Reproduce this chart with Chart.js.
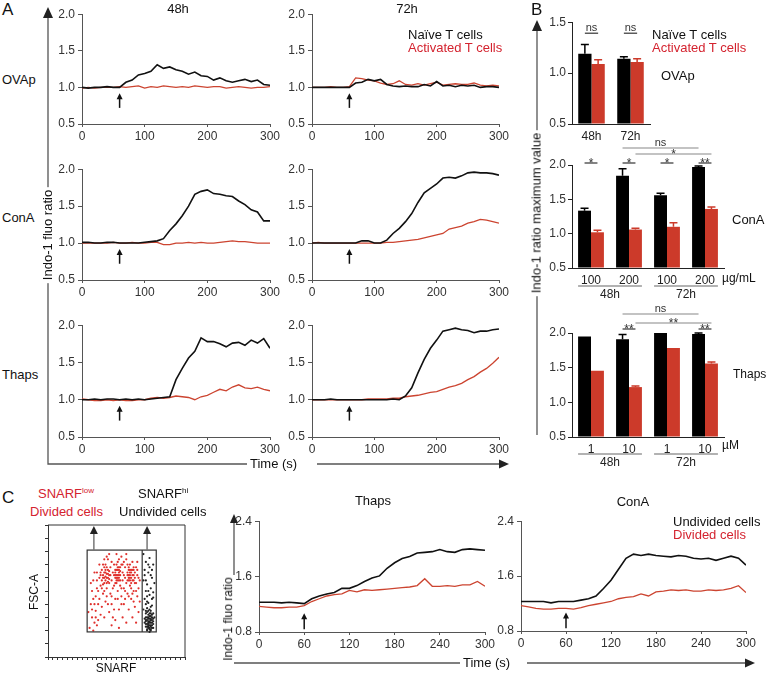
<!DOCTYPE html>
<html>
<head>
<meta charset="utf-8">
<script src="https://cdn.jsdelivr.net/npm/chart.js@4.4.1/dist/chart.umd.min.js"></script>
<style>
  body { margin: 0; width: 767px; height: 675px; position: relative; overflow: hidden; background: #fff;
         font-family: "Liberation Sans", Arial, sans-serif; }
  canvas { position: absolute; }
  svg { position: absolute; left: 0; top: 0; }
  .t { position: absolute; white-space: nowrap; font-size: 13px; line-height: 1.15; color: #111; }
</style>
</head>
<body>
<svg width="767" height="675">
  <g stroke="#555" stroke-width="1.3" fill="none">
    <path d="M48 16 V464 H247 M317 464 H500"/>
    <path d="M537 30 V435"/>
    <path d="M234 522 V575 M234 663 H460 M527 663 H746"/>
  </g>
  <g fill="#222">
    <path d="M48 7 L43 18 L53 18 Z"/>
    <path d="M537 20 L532 31 L542 31 Z"/>
    <path d="M234 514 L230 523 L238 523 Z"/>
    <path d="M509 464 L499 459.5 L499 468.5 Z"/>
    <path d="M755 663 L745 658.5 L745 667.5 Z"/>
  </g>
</svg>
<script>
// ---- data ----
const times = [0,10,20,30,40,50,60,70,80,90,100,110,120,130,140,150,160,170,180,190,200,210,220,230,240,250,260,270,280,290,300];

// panel A: Indo-1 ratio, naive (black) vs activated (red) T cells
const ovap48Naive = [1.00,0.99,1.00,1.00,1.01,1.00,1.00,1.07,1.10,1.17,1.19,1.22,1.31,1.26,1.28,1.24,1.22,1.18,1.21,1.16,1.15,1.10,1.13,1.09,1.07,1.09,1.11,1.08,1.10,1.04,1.03];
const ovap48Act   = [0.99,1.00,0.99,1.00,1.00,1.00,1.01,1.00,1.01,1.02,0.99,1.01,1.00,1.02,1.01,1.00,1.01,1.00,1.02,1.01,1.00,1.01,1.01,0.99,1.00,1.01,1.00,0.99,1.00,1.00,1.01];
const ovap72Naive = [1.00,1.00,1.00,1.00,1.00,1.00,1.00,1.06,1.07,1.11,1.09,1.11,1.04,1.02,1.01,1.02,1.01,1.01,1.04,1.02,1.08,1.02,1.03,1.01,1.03,1.02,1.03,1.00,1.01,1.01,1.00];
const ovap72Act   = [1.00,1.00,1.00,1.01,1.00,1.00,1.01,1.13,1.12,1.10,1.09,1.06,1.04,1.05,1.09,1.04,1.03,1.05,1.03,1.05,1.07,1.03,1.04,1.05,1.04,1.04,1.06,1.03,1.02,1.03,1.02];
const cona48Naive = [1.01,1.01,1.00,1.00,1.01,1.01,1.00,1.00,1.00,1.00,1.01,1.02,1.03,1.06,1.17,1.26,1.37,1.50,1.66,1.70,1.72,1.67,1.66,1.64,1.63,1.57,1.52,1.45,1.42,1.30,1.30];
const cona48Act   = [1.00,1.00,1.00,1.00,1.00,1.01,1.00,1.00,1.01,1.00,1.00,1.01,1.01,0.98,0.98,1.00,1.00,1.01,1.00,1.01,1.00,1.00,1.01,1.02,1.03,1.02,1.02,1.01,1.00,1.00,1.00];
const cona72Naive = [1.00,1.00,1.00,1.00,1.00,1.00,1.00,1.00,1.03,1.03,1.00,1.00,1.04,1.13,1.20,1.29,1.40,1.55,1.68,1.74,1.80,1.88,1.89,1.88,1.91,1.95,1.96,1.95,1.95,1.94,1.92];
const cona72Act   = [1.00,1.01,1.00,1.00,1.00,1.00,1.00,1.00,1.00,1.00,1.00,1.00,1.01,1.01,1.02,1.03,1.04,1.05,1.07,1.09,1.11,1.13,1.19,1.21,1.23,1.27,1.29,1.32,1.31,1.29,1.27];
const thaps48Naive = [1.00,1.00,1.01,1.00,1.01,1.01,1.00,1.01,1.00,1.01,1.00,1.01,1.02,1.03,1.04,1.27,1.42,1.56,1.65,1.83,1.78,1.78,1.75,1.71,1.76,1.77,1.73,1.80,1.76,1.82,1.69];
const thaps48Act   = [1.01,1.00,0.99,0.99,1.00,0.99,1.00,0.99,0.99,1.00,1.00,1.02,1.03,1.02,1.03,1.05,1.04,1.03,1.00,1.04,1.06,1.10,1.14,1.12,1.17,1.20,1.16,1.15,1.17,1.14,1.12];
const thaps72Naive = [1.00,1.00,1.00,1.01,1.00,1.00,1.00,1.00,1.00,1.00,1.00,1.00,1.00,1.01,1.00,1.05,1.16,1.36,1.54,1.69,1.80,1.92,1.94,1.96,1.94,1.93,1.90,1.92,1.92,1.94,1.95];
const thaps72Act   = [1.00,1.00,1.00,1.00,1.00,1.00,1.00,1.00,1.00,1.01,1.01,1.01,1.01,1.02,1.02,1.04,1.05,1.06,1.08,1.10,1.11,1.14,1.17,1.19,1.22,1.27,1.31,1.37,1.42,1.49,1.57];

// panel B: maximum ratio (mean, error)
const ovapLabels = ['48h', '72h'];
const ovapNaive = [1.19, 1.14];
const ovapNaiveErr = [0.09, 0.02];
const ovapAct = [1.09, 1.11];
const ovapActErr = [0.04, 0.03];

const conaLabels = ['100', '200', '100', '200'];
const conaNaive = [1.335, 1.845, 1.56, 1.97];
const conaNaiveErr = [0.035, 0.10, 0.03, 0.015];
const conaAct = [1.02, 1.06, 1.10, 1.36];
const conaActErr = [0.03, 0.02, 0.06, 0.03];

const thapsLabels = ['1', '10', '1', '10'];
const thapsNaive = [1.95, 1.91, 2.0, 1.985];
const thapsNaiveErr = [0, 0.07, 0, 0.015];
const thapsAct = [1.455, 1.22, 1.785, 1.56];
const thapsActErr = [0, 0.015, 0, 0.02];

// panel C: undivided (black) vs divided (red) cells
const thapsUndiv = [1.23,1.23,1.23,1.22,1.23,1.22,1.21,1.28,1.32,1.35,1.37,1.43,1.43,1.47,1.53,1.58,1.61,1.72,1.80,1.86,1.89,1.94,1.95,1.96,1.99,1.96,1.95,1.99,2.00,1.99,1.98];
const thapsDiv   = [1.17,1.16,1.15,1.15,1.16,1.16,1.18,1.24,1.28,1.32,1.34,1.35,1.40,1.38,1.41,1.40,1.41,1.42,1.43,1.44,1.45,1.47,1.57,1.46,1.46,1.47,1.46,1.48,1.48,1.53,1.46];
const conaUndiv  = [1.23,1.23,1.23,1.23,1.21,1.23,1.23,1.23,1.25,1.27,1.31,1.42,1.54,1.70,1.86,1.92,1.90,1.92,1.90,1.89,1.88,1.90,1.89,1.86,1.85,1.86,1.83,1.86,1.89,1.86,1.76];
const conaDiv    = [1.17,1.15,1.13,1.12,1.12,1.13,1.13,1.12,1.14,1.17,1.19,1.21,1.23,1.27,1.29,1.30,1.34,1.31,1.37,1.38,1.40,1.39,1.40,1.38,1.38,1.40,1.39,1.40,1.42,1.46,1.36];

// SNARF (x) vs FSC-A (y) events
const dividedPts = [[34,22],[36,30],[38,26],[35,40],[39,35],[41,28],[42,44],[40,52],[37,58],[43,62],[44,38],[45,48],[46,56],[46,64],[47,70],[48,60],[48,52],[49,66],[47,58],[45,60],[49,74],[50,56],[50,62],[51,48],[51,68],[52,58],[52,40],[53,64],[53,30],[54,54],[54,70],[55,60],[55,44],[56,66],[56,56],[57,62],[57,72],[57,50],[58,58],[58,66],[58,36],[59,62],[59,54],[60,70],[60,46],[61,58],[61,64],[62,52],[62,40],[63,68],[63,60],[64,56],[64,74],[65,62],[65,48],[66,66],[66,58],[67,70],[67,62],[67,54],[68,64],[68,44],[69,58],[69,72],[70,66],[70,50],[71,60],[71,38],[72,56],[72,68],[73,46],[73,62],[74,52],[74,34],[75,58],[75,42],[44,66],[46,74],[48,46],[50,34],[52,24],[55,28],[58,22],[61,30],[64,26],[66,36],[69,30],[72,26],[40,64],[42,70],[39,46],[36,50],[33,34],[37,20],[60,76],[56,78],[64,78],[50,78],[47,64],[48,68],[49,60],[56,60],[57,58],[58,62],[66,62],[67,66],[68,60],[46,50],[53,52],[62,62],[59,68],[63,50],[45,70],[54,62],[65,70],[70,62],[68,52],[51,62],[55,66],[61,70],[43,54],[47,42],[60,40],[70,42],[73,72],[41,40],[38,64],[35,56],
  [44,58],[45,62],[46,60],[47,66],[48,63],[49,57],[50,65],[44,52],[46,68],[48,56],[50,59],[43,64],[45,55],[47,61],[49,63],[55,64],[56,62],[57,60],[58,64],[59,58],[56,70],[57,66],[55,56],[58,68],[59,65],[56,58],[57,68],[55,62],[58,60],[65,64],[66,60],[67,64],[68,66],[69,62],[70,58],[71,64],[66,68],[67,58],[68,56],[69,66],[65,58],[70,68],[71,56],[67,60],[40,58],[41,50],[42,60],[38,40],[37,44],[36,36],[39,30],[40,24],[43,32],[46,30],[49,40],[52,46],[54,36],[57,44],[60,52],[63,44],[66,46],[69,48],[72,50],[74,60],[73,66],[62,72],[52,72],[48,76],[58,74]];
const undividedPts = [[78,78],[80,72],[83,75],[86,70],[79,66],[82,64],[85,60],[78,58],[81,55],[84,52],[87,56],[80,50],[83,47],[86,45],[79,44],[82,41],[85,39],[81,37],[84,35],[78,36],[80,33],[82,32],[84,31],[86,33],[81,30],[83,29],[85,28],[80,28],[82,27],[84,26],[86,27],[81,25],[83,24],[85,24],[80,23],[82,22],[84,21],[86,22],[81,20],[83,19],[79,26],[87,30],[82,35],[84,38],[80,40],[86,49],[83,68],[79,62],[85,66],[81,46],[83,33],[81,34],[85,30],[82,25],[84,28],[83,26],[80,30],[86,25],[82,29],[84,23],
  [81,21],[82,23],[83,22],[84,24],[85,22],[80,25],[82,26],[83,27],[85,26],[81,28],[84,29],[82,30],[83,31],[80,27],[86,29],[81,23],[84,20],[83,21],[82,24],[85,32],[79,29],[80,35],[84,33],[83,36],[81,42],[85,44],[82,50],[80,58],[84,62],[82,70]];

// ---- drawing ----
const FONT = "'Liberation Sans', Arial, sans-serif";
const LINE_RED = '#cc4430';
const BAR_RED = '#cc3a2a';
const TEXT_RED = '#d4232f';
const AXIS = '#555';
Chart.defaults.font.family = FONT;
Chart.defaults.color = '#333';

function makeCanvas(area, pad) {
  const c = document.createElement('canvas');
  const w = area.r - area.l + pad.l + pad.r;
  const h = area.b - area.t + pad.t + pad.b;
  c.width = w; c.height = h;
  c.style.left = (area.l - pad.l) + 'px';
  c.style.top = (area.t - pad.t) + 'px';
  c.style.width = w + 'px'; c.style.height = h + 'px';
  document.body.appendChild(c);
  return c;
}

function txt(s, x, y, o = {}) {
  const d = document.createElement('div');
  d.className = 't';
  d.innerHTML = s;
  d.style.left = x + 'px';
  d.style.top = y + 'px';
  if (o.size) d.style.fontSize = o.size + 'px';
  if (o.color) d.style.color = o.color;
  if (o.bg) { d.style.background = '#fff'; d.style.padding = '0 3px'; }
  let tr = o.center ? 'translate(-50%,-50%)' : 'translateY(-50%)';
  if (o.rot) tr += ' rotate(-90deg)';
  d.style.transform = tr;
  document.body.appendChild(d);
}

// small upward arrow marking stimulus addition
function stimArrow(a) {
  return {
    id: 'stimArrow',
    afterDatasetsDraw(chart) {
      const {ctx, scales: {x, y}} = chart;
      const px = x.getPixelForValue(a.x);
      const tip = y.getPixelForValue(a.tip), tail = y.getPixelForValue(a.tail);
      ctx.save();
      ctx.strokeStyle = '#111'; ctx.fillStyle = '#111'; ctx.lineWidth = 1.5;
      ctx.beginPath(); ctx.moveTo(px, tail); ctx.lineTo(px, tip + 4); ctx.stroke();
      ctx.beginPath(); ctx.moveTo(px, tip); ctx.lineTo(px - 3, tip + 6); ctx.lineTo(px + 3, tip + 6); ctx.closePath(); ctx.fill();
      ctx.restore();
    }
  };
}

function lineChart(area, naive, act, yMin, yMax, yStep, xStep, arrow) {
  const pad = {l: 40, t: 8, r: 16, b: 24};
  const canvas = makeCanvas(area, pad);
  new Chart(canvas, {
    type: 'line',
    data: {
      datasets: [
        {data: times.map((t, i) => ({x: t, y: naive[i]})), borderColor: '#111', borderWidth: 1.6},
        {data: times.map((t, i) => ({x: t, y: act[i]})), borderColor: LINE_RED, borderWidth: 1.3}
      ]
    },
    options: {
      responsive: false, animation: false, devicePixelRatio: 1,
      layout: {padding: {top: pad.t, right: pad.r, left: 0, bottom: 0}},
      elements: {point: {radius: 0}, line: {tension: 0}},
      plugins: {legend: {display: false}, tooltip: {enabled: false}},
      scales: {
        x: {type: 'linear', min: 0, max: 300,
            ticks: {stepSize: xStep, font: {size: 12}, color: '#333', padding: 2},
            grid: {drawOnChartArea: false, tickLength: 3, color: AXIS},
            border: {color: AXIS},
            afterFit: s => { s.height = pad.b; }},
        y: {min: yMin, max: yMax,
            ticks: {stepSize: yStep, font: {size: 12}, color: '#333', padding: 3, callback: v => v.toFixed(1)},
            grid: {drawOnChartArea: false, tickLength: 4, color: AXIS},
            border: {color: AXIS},
            afterFit: s => { s.width = pad.l; }}
      }
    },
    plugins: [stimArrow(arrow)]
  });
}

// error bars, significance brackets and group underlines
function barExtras(o) {
  return {
    id: 'barExtras',
    afterDatasetsDraw(chart) {
      const {ctx, chartArea, scales: {y}} = chart;
      const bar = (c, d) => chart.getDatasetMeta(d).data[c];
      ctx.save();
      [[o.naive, o.naiveErr, '#000'], [o.act, o.actErr, BAR_RED]].forEach(([vals, errs, col], d) => {
        vals.forEach((v, i) => {
          if (!errs[i]) return;
          const b = bar(i, d), top = y.getPixelForValue(v + errs[i]);
          ctx.strokeStyle = col; ctx.lineWidth = 1.5;
          ctx.beginPath();
          ctx.moveTo(b.x, b.y); ctx.lineTo(b.x, top);
          ctx.moveTo(b.x - 4, top); ctx.lineTo(b.x + 4, top);
          ctx.stroke();
        });
      });
      ctx.textAlign = 'center'; ctx.textBaseline = 'alphabetic'; ctx.fillStyle = '#333';
      o.sig.forEach(s => {
        const x1 = bar(s.a[0], s.a[1]).x, x2 = bar(s.b[0], s.b[1]).x;
        const yy = chartArea.top + o.levels[s.lv];
        ctx.strokeStyle = s.lv ? '#888' : '#333'; ctx.lineWidth = 1.2;
        ctx.beginPath(); ctx.moveTo(x1, yy); ctx.lineTo(x2, yy); ctx.stroke();
        if (s.text.includes('*')) {
          ctx.font = `12px ${FONT}`;
          ctx.fillText(s.text, (x1 + x2) / 2, yy + 4);
        } else {
          ctx.font = `11px ${FONT}`;
          ctx.fillText(s.text, (x1 + x2) / 2, yy - 2);
        }
      });
      ctx.font = `12px ${FONT}`; ctx.textBaseline = 'middle'; ctx.fillStyle = '#222';
      o.groups.forEach(g => {
        const b1 = bar(g.from, 0), b2 = bar(g.to, 1);
        const x1 = b1.x - b1.width / 2, x2 = b2.x + b2.width / 2, yy = chartArea.bottom + o.groupOff;
        ctx.strokeStyle = '#999'; ctx.lineWidth = 1.5;
        ctx.beginPath(); ctx.moveTo(x1, yy); ctx.lineTo(x2, yy); ctx.stroke();
        ctx.fillText(g.text, (x1 + x2) / 2, yy + 9);
      });
      ctx.restore();
    }
  };
}

function barChart(o) {
  const pad = {l: 36, t: o.padTop, r: 6, b: 40};
  const canvas = makeCanvas(o.area, pad);
  new Chart(canvas, {
    type: 'bar',
    data: {
      labels: o.labels,
      datasets: [
        {data: o.naive, backgroundColor: '#000', base: o.yMin},
        {data: o.act, backgroundColor: BAR_RED, base: o.yMin}
      ]
    },
    options: {
      responsive: false, animation: false, devicePixelRatio: 1,
      layout: {padding: {top: pad.t, right: pad.r, left: 0, bottom: 0}},
      datasets: {bar: {categoryPercentage: 0.68, barPercentage: 1}},
      plugins: {legend: {display: false}, tooltip: {enabled: false}},
      scales: {
        x: {grid: {display: false, drawTicks: false}, border: {color: '#222'},
            ticks: {font: {size: 12}, color: '#222', padding: 5},
            afterFit: s => { s.height = pad.b; }},
        y: {min: o.yMin, max: o.yMax,
            ticks: {stepSize: 0.5, font: {size: 12}, color: '#333', padding: 2, callback: v => v.toFixed(1)},
            grid: {drawOnChartArea: false, tickLength: 4, color: '#222'},
            border: {color: '#222'},
            afterFit: s => { s.width = pad.l; }}
      }
    },
    plugins: [barExtras(o)]
  });
}

// panel A
const arrA = {x: 60, tip: 0.92, tail: 0.72};
lineChart({l: 82, r: 270, t: 12, b: 124}, ovap48Naive, ovap48Act, 0.5, 2.0, 0.5, 100, arrA);
lineChart({l: 312, r: 499, t: 12, b: 124}, ovap72Naive, ovap72Act, 0.5, 2.0, 0.5, 100, arrA);
lineChart({l: 82, r: 270, t: 167, b: 280}, cona48Naive, cona48Act, 0.5, 2.0, 0.5, 100, arrA);
lineChart({l: 312, r: 499, t: 167, b: 280}, cona72Naive, cona72Act, 0.5, 2.0, 0.5, 100, arrA);
lineChart({l: 82, r: 270, t: 323, b: 437}, thaps48Naive, thaps48Act, 0.5, 2.0, 0.5, 100, arrA);
lineChart({l: 312, r: 499, t: 323, b: 437}, thaps72Naive, thaps72Act, 0.5, 2.0, 0.5, 100, arrA);

// panel B
barChart({area: {l: 572, r: 650, t: 21, b: 124}, padTop: 8, labels: ovapLabels, yMin: 0.5, yMax: 1.5,
  naive: ovapNaive, naiveErr: ovapNaiveErr, act: ovapAct, actErr: ovapActErr,
  sig: [{a: [0, 0], b: [0, 1], text: 'ns', lv: 0}, {a: [1, 0], b: [1, 1], text: 'ns', lv: 0}],
  levels: [11], groups: [], groupOff: 18});
barChart({area: {l: 572, r: 724, t: 165, b: 268}, padTop: 30, labels: conaLabels, yMin: 0.5, yMax: 2.0,
  naive: conaNaive, naiveErr: conaNaiveErr, act: conaAct, actErr: conaActErr,
  sig: [{a: [0, 0], b: [0, 1], text: '*', lv: 0}, {a: [1, 0], b: [1, 1], text: '*', lv: 0},
        {a: [2, 0], b: [2, 1], text: '*', lv: 0}, {a: [3, 0], b: [3, 1], text: '**', lv: 0},
        {a: [1, 1], b: [3, 1], text: '*', lv: 1}, {a: [1, 0], b: [3, 0], text: 'ns', lv: 2}],
  levels: [-2, -11, -17],
  groups: [{from: 0, to: 1, text: '48h'}, {from: 2, to: 3, text: '72h'}], groupOff: 18});
barChart({area: {l: 572, r: 724, t: 333, b: 437}, padTop: 30, labels: thapsLabels, yMin: 0.5, yMax: 2.0,
  naive: thapsNaive, naiveErr: thapsNaiveErr, act: thapsAct, actErr: thapsActErr,
  sig: [{a: [1, 0], b: [1, 1], text: '**', lv: 0}, {a: [3, 0], b: [3, 1], text: '**', lv: 0},
        {a: [1, 1], b: [3, 1], text: '**', lv: 1}, {a: [1, 0], b: [3, 0], text: 'ns', lv: 2}],
  levels: [-4, -10, -19],
  groups: [{from: 0, to: 1, text: '48h'}, {from: 2, to: 3, text: '72h'}], groupOff: 17});

// panel C: gating plot
const gatePlugin = {
  id: 'gate',
  afterDatasetsDraw(chart) {
    const {ctx, chartArea: ca, scales: {x, y}} = chart;
    ctx.save();
    ctx.strokeStyle = '#333'; ctx.lineWidth = 1;
    ctx.beginPath(); ctx.moveTo(ca.left, ca.top); ctx.lineTo(ca.right, ca.top); ctx.lineTo(ca.right, ca.bottom); ctx.stroke();
    const gx1 = x.getPixelForValue(32), gx2 = x.getPixelForValue(88.5), gd = x.getPixelForValue(77);
    const gy1 = y.getPixelForValue(81), gy2 = y.getPixelForValue(19);
    ctx.lineWidth = 1.2;
    ctx.strokeRect(gx1, gy1, gx2 - gx1, gy2 - gy1);
    ctx.beginPath(); ctx.moveTo(gd, gy1); ctx.lineTo(gd, gy2); ctx.stroke();
    [37.5, 81].forEach(v => {
      const px = x.getPixelForValue(v);
      ctx.strokeStyle = '#777'; ctx.lineWidth = 1.5;
      ctx.beginPath(); ctx.moveTo(px, gy1); ctx.lineTo(px, ca.top + 6); ctx.stroke();
      ctx.fillStyle = '#222';
      ctx.beginPath(); ctx.moveTo(px, ca.top + 1); ctx.lineTo(px - 4, ca.top + 9); ctx.lineTo(px + 4, ca.top + 9); ctx.closePath(); ctx.fill();
    });
    ctx.restore();
  }
};
(function () {
  const pad = {l: 8, t: 2, r: 4, b: 8};
  const canvas = makeCanvas({l: 48, r: 185, t: 523, b: 657}, pad);
  new Chart(canvas, {
    type: 'scatter',
    data: {datasets: [
      {data: undividedPts.map(([a, b]) => ({x: a, y: b})), backgroundColor: '#222', pointRadius: 1.1, borderWidth: 0},
      {data: dividedPts.map(([a, b]) => ({x: a, y: b})), backgroundColor: '#e0302c', pointRadius: 1.1, borderWidth: 0}
    ]},
    options: {
      responsive: false, animation: false, devicePixelRatio: 1,
      layout: {padding: {top: pad.t, right: pad.r, left: 0, bottom: 0}},
      plugins: {legend: {display: false}, tooltip: {enabled: false}},
      scales: {
        x: {type: 'linear', min: 0, max: 112, ticks: {display: false, stepSize: 4},
            grid: {drawOnChartArea: false, tickLength: 3, color: '#333'}, border: {color: '#333'},
            afterFit: s => { s.height = pad.b; }},
        y: {min: 0, max: 100, ticks: {display: false, stepSize: 10},
            grid: {drawOnChartArea: false, tickLength: 3, color: '#333'}, border: {color: '#333'},
            afterFit: s => { s.width = pad.l; }}
      }
    },
    plugins: [gatePlugin]
  });
})();

const arrC = {x: 60, tip: 1.07, tail: 0.84};
lineChart({l: 259, r: 485, t: 519, b: 632}, thapsUndiv, thapsDiv, 0.8, 2.4, 0.8, 60, arrC);
lineChart({l: 521, r: 746, t: 519, b: 631}, conaUndiv, conaDiv, 0.8, 2.4, 0.8, 60, arrC);

// ---- text ----
txt('A', 2, 10, {size: 17});
txt('48h', 178, 9, {center: true});
txt('72h', 407, 9, {center: true});
txt('Naïve T cells', 408, 35);
txt('Activated T cells', 408, 48, {color: TEXT_RED});
txt('OVAp', 2, 80);
txt('ConA', 2, 218);
txt('Thaps', 2, 375);
txt('Indo-1 fluo ratio', 48, 235, {center: true, rot: true, bg: true});
txt('Time (s)', 250, 464, {size: 13});

txt('B', 531, 10, {size: 17});
txt('Naïve T cells', 652, 35);
txt('Activated T cells', 652, 48, {color: TEXT_RED});
txt('OVAp', 661, 76);
txt('ConA', 732, 220);
txt('Thaps', 733, 375, {size: 12});
txt('µg/mL', 722, 279, {size: 12});
txt('µM', 722, 446, {size: 12});
txt('Indo-1 ratio maximum value', 537, 213, {center: true, rot: true, bg: true});

txt('C', 2, 498, {size: 17});
txt('SNARF<span style="font-size:8px;position:relative;top:-5px">low</span>', 38, 494, {color: TEXT_RED});
txt('Divided cells', 30, 512, {color: TEXT_RED});
txt('SNARF<span style="font-size:8px;position:relative;top:-5px">hi</span>', 138, 494);
txt('Undivided cells', 119, 512);
txt('FSC-A', 35, 592, {center: true, rot: true, size: 12});
txt('SNARF', 116, 669, {center: true, size: 12});
txt('Indo-1 fluo ratio', 229, 619, {center: true, rot: true, size: 12});
txt('Thaps', 373, 501, {center: true});
txt('ConA', 633, 502, {center: true});
txt('Undivided cells', 673, 522);
txt('Divided cells', 673, 535, {color: TEXT_RED});
txt('Time (s)', 463, 663, {size: 13});
</script>
</body>
</html>
